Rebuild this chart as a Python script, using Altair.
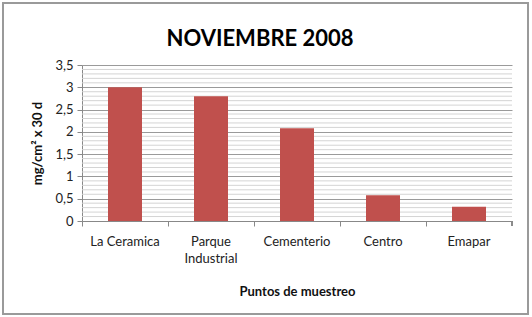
import altair as alt
import pandas as pd

categories = ["La Ceramica", "Parque Industrial", "Cementerio", "Centro", "Emapar"]
values = [3.0, 2.8, 2.08, 0.58, 0.32]

df = pd.DataFrame({"punto": categories, "valor": values})

FONT = "Lato"
major = [0, 0.5, 1, 1.5, 2, 2.5, 3, 3.5]
minor = [0.1, 0.2, 0.3, 0.4, 0.6, 0.7, 0.8, 0.9,
         1.1, 1.2, 1.3, 1.4, 1.6, 1.7, 1.8, 1.9,
         2.1, 2.2, 2.3, 2.4, 2.6, 2.7, 2.8, 2.9,
         3.1, 3.2, 3.3, 3.4]
minor_df = pd.DataFrame({"g": minor})

y_scale = alt.Scale(domain=[0, 3.5], nice=False)

x_enc = alt.X(
    "punto:N",
    sort=categories,
    title="Puntos de muestreo",
    scale=alt.Scale(paddingInner=0, paddingOuter=0),
    axis=alt.Axis(
        labelAngle=0,
        bandPosition=0,
        tickSize=5,
        tickColor="#888888",
        domainColor="#888888",
        labelPadding=9,
        labelFontSize=13,
        labelFont=FONT,
        labelColor="#222222",
        labelExpr="datum.label == 'Parque Industrial' ? ['Parque', 'Industrial'] : datum.label",
        labelBaseline="top",
        labelLineHeight=17,
        titleFont=FONT,
        titleFontSize=13,
        titleFontWeight="bold",
        titlePadding=20,
        titleColor="#111111",
    ),
)

y_axis = alt.Axis(
    values=major,
    grid=True,
    gridColor="#9a9a9a",
    gridWidth=1,
    tickSize=5,
    tickColor="#888888",
    domainColor="#888888",
    labelExpr="replace(format(datum.value, '~g'), '.', ',')",
    labelFont=FONT,
    labelFontSize=13,
    labelColor="#222222",
    labelPadding=4,
    titleFont=FONT,
    titleFontSize=13,
    titleFontWeight="bold",
    titleColor="#111111",
    titlePadding=10,
    zindex=0,
)

bars = alt.Chart(df).mark_bar(color="#C0504D", size=34).encode(
    x=x_enc,
    y=alt.Y("valor:Q", scale=y_scale, title="mg/cm² x 30 d", axis=y_axis),
)

minor_grid = alt.Chart(minor_df).mark_rule(color="#d4d4d4", strokeWidth=1).encode(
    y=alt.Y("g:Q", scale=y_scale, title="mg/cm² x 30 d", axis=y_axis),
)

end_tick = alt.Chart(df).mark_rule(color="#888888").encode(
    x=alt.value(430), y=alt.value(156), y2=alt.value(161)
)

border = alt.Chart(df).mark_rect(
    fill=None, stroke="#9a9a9a", strokeWidth=1.5, clip=False
).encode(
    x=alt.value(-79), x2=alt.value(446), y=alt.value(-62), y2=alt.value(249)
)

chart = (
    alt.layer(minor_grid, bars, end_tick, border)
    .properties(
        width=430,
        height=156,
        autosize=alt.AutoSizeParams(type="none"),
        padding={"left": 82, "top": 65, "right": 20, "bottom": 96},
        title=alt.TitleParams(
            "NOVIEMBRE 2008",
            font=FONT,
            fontSize=22,
            fontWeight="bold",
            color="#000000",
            anchor="middle",
            offset=0,
            dy=49,
            dx=-37,
        ),
        background="white",
    )
    .configure_view(stroke=None)
)

chart.save("out.html", embed_options={"renderer": "svg", "actions": False})
